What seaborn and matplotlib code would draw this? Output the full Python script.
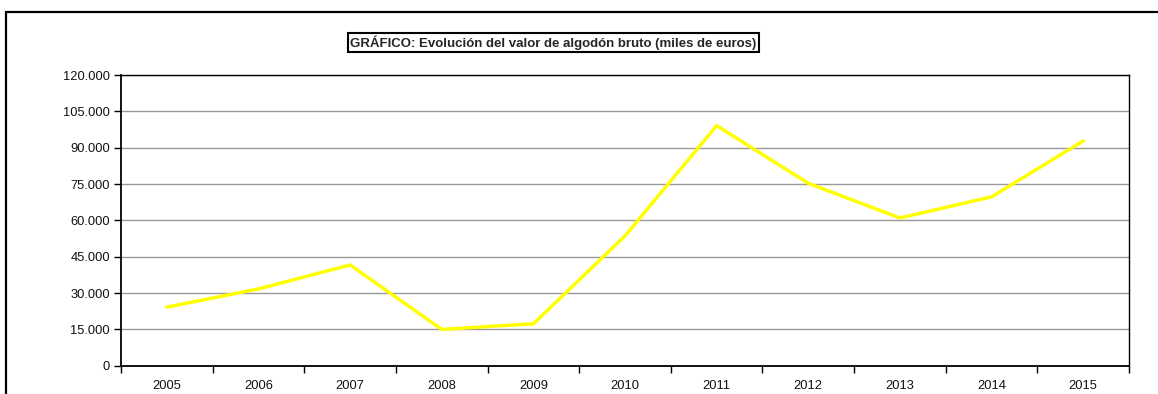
import seaborn as sns
import pandas as pd
from matplotlib import pyplot as plt
from matplotlib.patches import Rectangle
from matplotlib.ticker import FixedLocator, FuncFormatter

years = ["2005", "2006", "2007", "2008", "2009", "2010", "2011", "2012", "2013", "2014", "2015"]
valor = [24200, 31700, 41600, 15000, 17300, 53600, 99100, 75300, 61000, 69700, 92800]
y_ticks = [0, 15000, 30000, 45000, 60000, 75000, 90000, 105000, 120000]
titulo = "GRÁFICO: Evolución del valor de algodón bruto (miles de euros)"

sns.set_style("white")
plt.rcParams["font.family"] = ["Liberation Sans", "DejaVu Sans"]

df = pd.DataFrame({"year": years, "valor": valor})

fig = plt.figure(figsize=(11.58, 3.94), dpi=100)
ax = fig.add_axes([0.1045, 0.0718, 0.975 - 0.1045, 0.8096 - 0.0718])

sns.lineplot(data=df, x="year", y="valor", color="#FFFF00", linewidth=2.5, ax=ax)

ax.set_ylim(0, 120000)
ax.set_xlim(-0.5, len(years) - 0.5)
ax.yaxis.set_major_locator(FixedLocator(y_ticks))
ax.yaxis.set_major_formatter(FuncFormatter(lambda v, p: f"{int(v):,}".replace(",", ".")))
ax.grid(axis="y", color="#999999", linewidth=1)
ax.set_axisbelow(True)

# ticks between categories, labels at centres
ax.xaxis.set_major_locator(FixedLocator([i - 0.5 for i in range(len(years) + 1)]))
ax.xaxis.set_major_formatter(FuncFormatter(lambda v, p: ""))
ax.xaxis.set_minor_locator(FixedLocator(list(range(len(years)))))
ax.set_xticklabels(years, minor=True)
ax.tick_params(axis="x", which="major", direction="out", length=5, width=1, color="black", bottom=True)
ax.tick_params(axis="x", which="minor", length=0, labelsize=9.3, pad=10.5, labelcolor="#111111")
ax.tick_params(axis="y", direction="out", length=5, width=1, color="black", left=True,
               labelsize=9.3, pad=3, labelcolor="#111111")

ax.set_xlabel("")
ax.set_ylabel("")
for s in ax.spines.values():
    s.set_color("black")
    s.set_linewidth(1)
ax.spines["left"].set_linewidth(1.3)
ax.spines["bottom"].set_linewidth(1.3)

fig.text(0.478, 0.892, titulo, ha="center", va="center", fontsize=9.5, fontweight="bold",
         bbox=dict(boxstyle="square,pad=0.15", facecolor="white", edgecolor="black", linewidth=1.5))

fig.add_artist(Rectangle((0.0055, -0.1), 1.2, 1.0695, transform=fig.transFigure,
                         fill=False, edgecolor="black", linewidth=1.6))

fig.savefig("out.png", dpi=100)
